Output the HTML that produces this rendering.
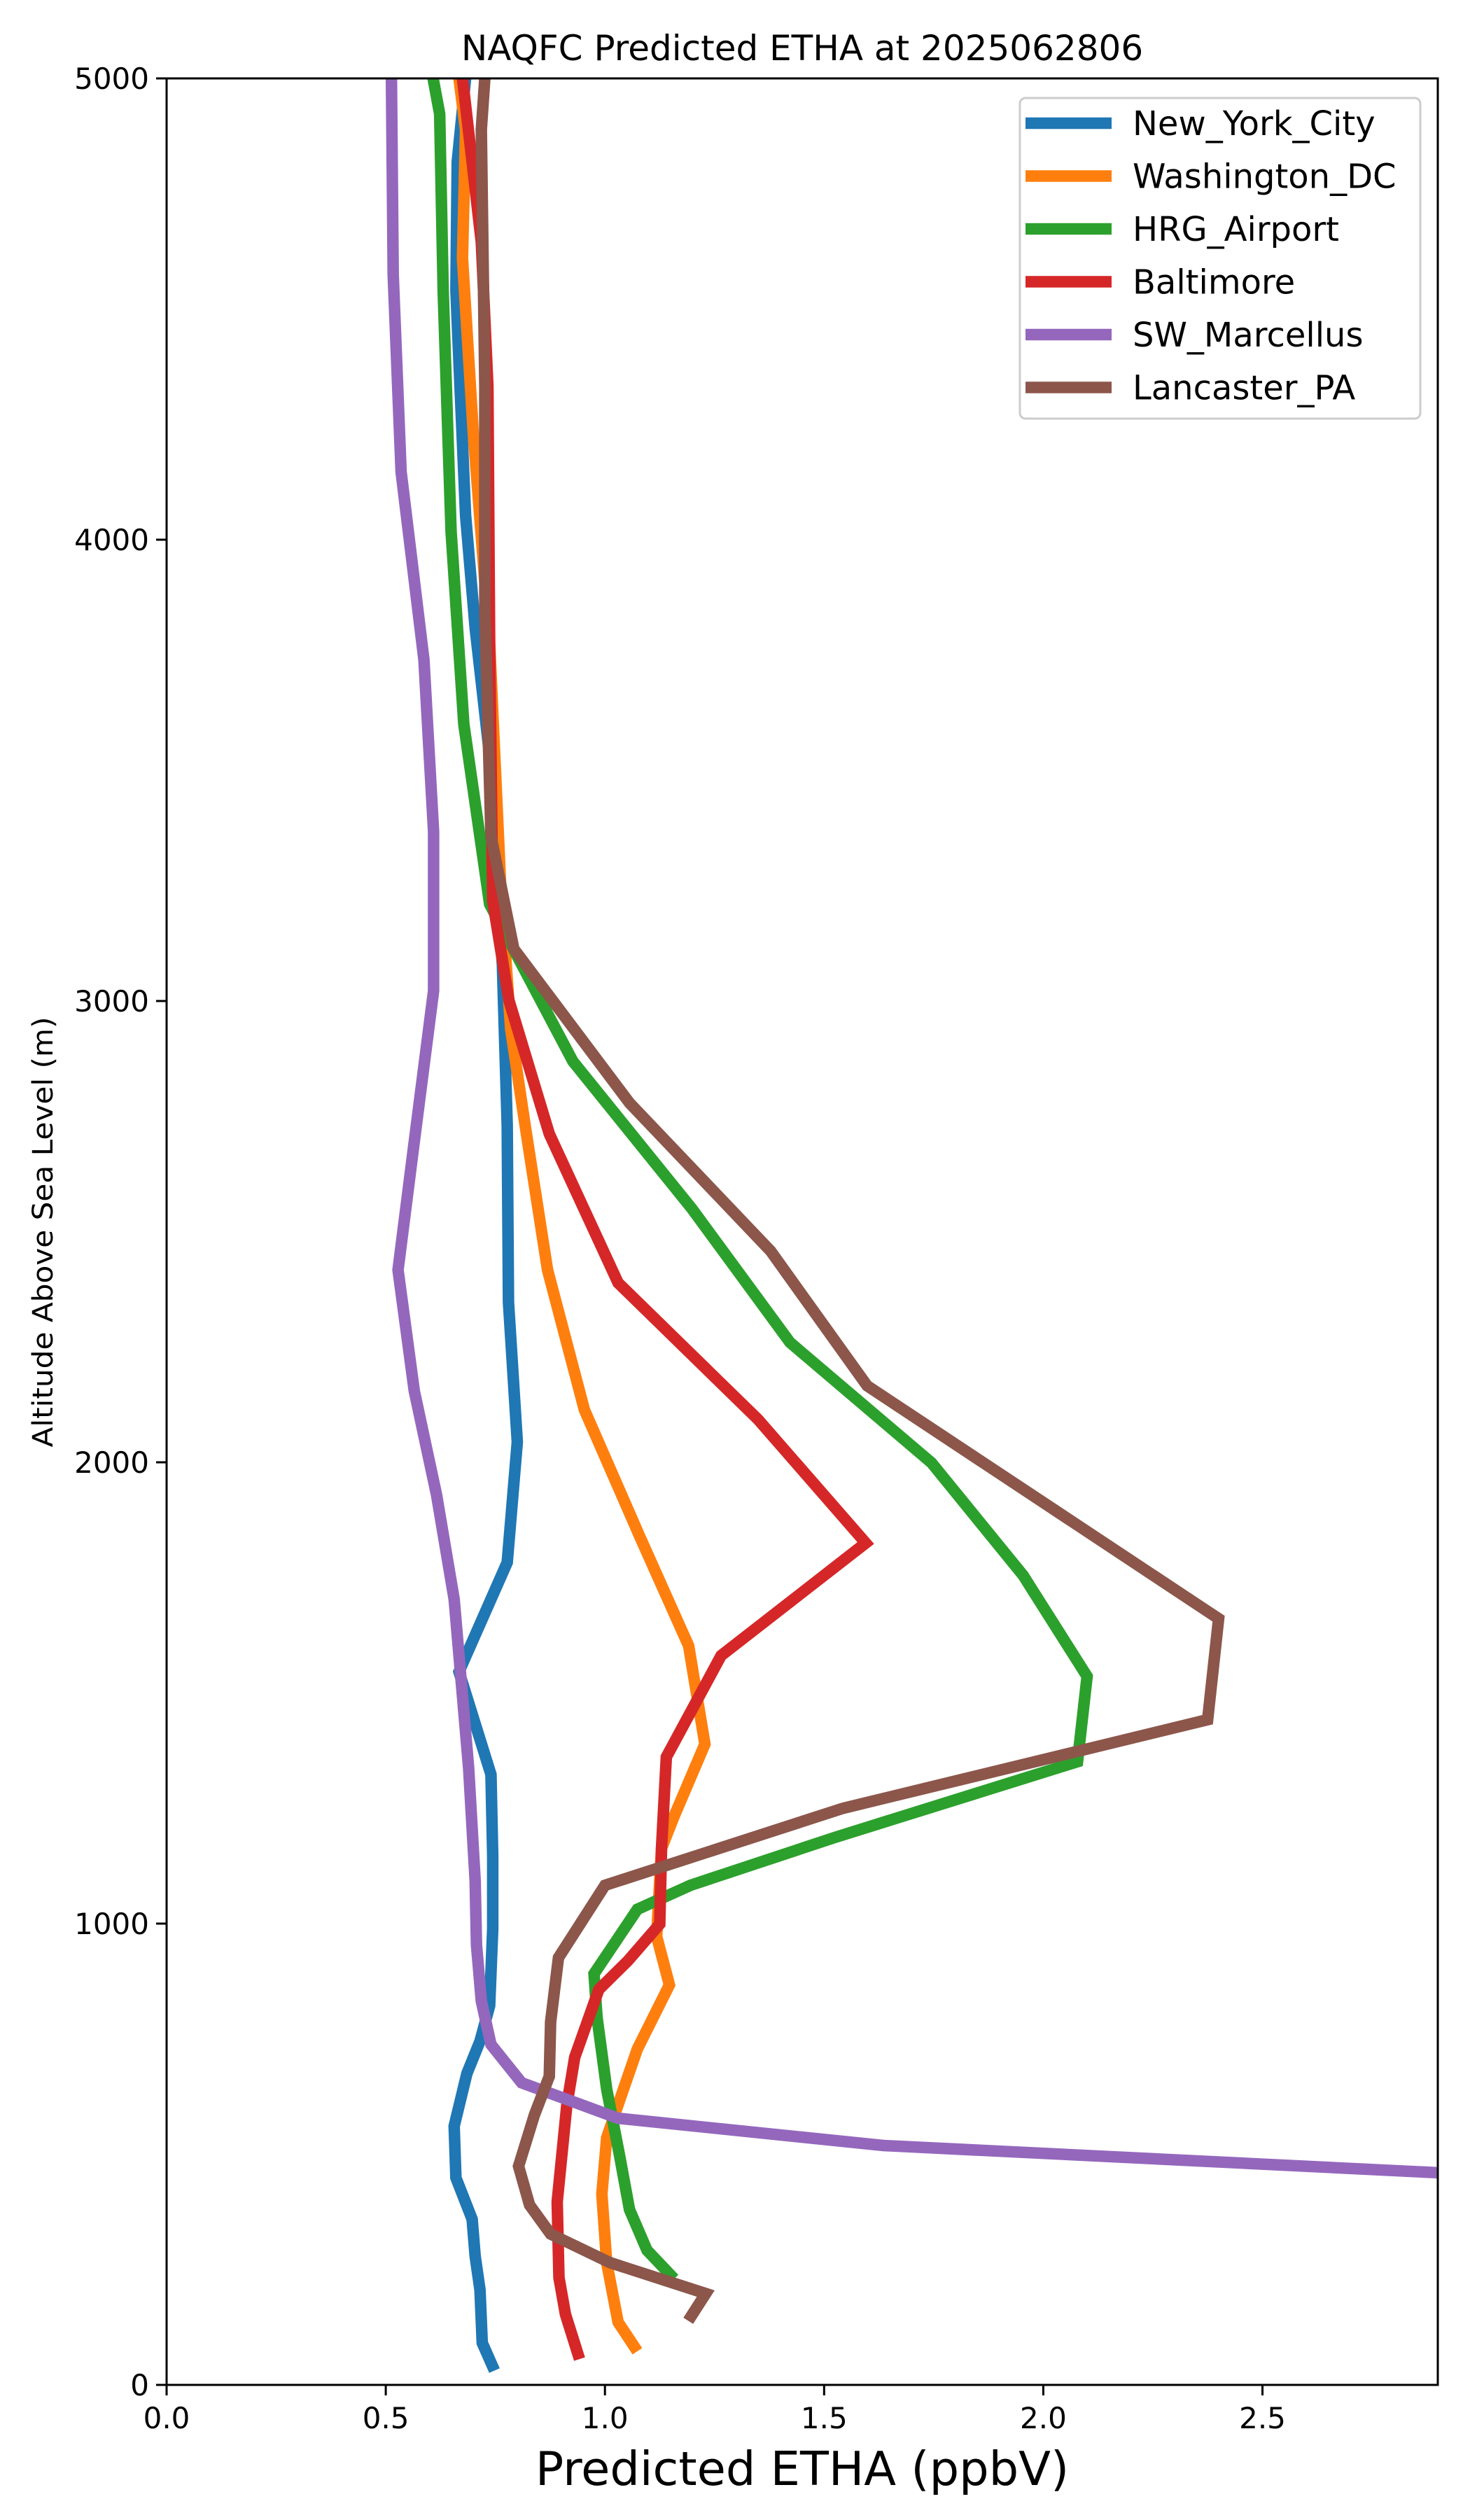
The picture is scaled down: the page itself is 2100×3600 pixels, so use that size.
<!DOCTYPE html>
<html><head><meta charset="utf-8"><style>html,body{margin:0;padding:0;background:#fff}svg{display:block}text{font-family:"DejaVu Sans","Liberation Sans",sans-serif;fill:#000}</style></head>
<body>
<svg id="chart" xmlns="http://www.w3.org/2000/svg" width="2100" height="3600" viewBox="0 0 2100 3600">
<rect width="2100" height="3600" fill="#fff"/>
<text x="1146" y="86" font-size="50" text-anchor="middle">NAQFC Predicted ETHA at 2025062806</text>
<g id="series"></g>
<rect x="238" y="112" width="1816" height="3295" fill="none" stroke="#000" stroke-width="3"/>
<g id="axes"></g>
<text x="1146" y="3550" font-size="67" text-anchor="middle">Predicted ETHA (ppbV)</text>
<text transform="translate(75,1760) rotate(-90)" font-size="40" text-anchor="middle" textLength="615" lengthAdjust="spacingAndGlyphs">Altitude Above Sea Level (m)</text>
<g id="legend"></g>
</svg>
<script>
const seriesNames = ["New_York_City","Washington_DC","HRG_Airport","Baltimore","SW_Marcellus","Lancaster_PA"];
const seriesColors = ["#1f77b4","#ff7f0e","#2ca02c","#d62728","#9467bd","#8c564b"];
const xTicks = [0,0.5,1,1.5,2,2.5];
const xTickLabels = ["0.0","0.5","1.0","1.5","2.0","2.5"];
const yTicks = [0,1000,2000,3000,4000,5000];
const yTickLabels = ["0","1000","2000","3000","4000","5000"];
const nycX = [0.748,0.72,0.715,0.704,0.697,0.66,0.656,0.685,0.715,0.737,0.744,0.744,0.74,0.667,0.777,0.8,0.78,0.777,0.766,0.737,0.704,0.682,0.66,0.663,0.682];
const nycY = [31,91,206,279,359,449,561,675,745,822,989,1146,1323,1546,1783,2044,2347,2730,3078,3531,3809,4053,4540,4819,5000];
const dcX = [1.074,1.03,1.004,0.993,1.004,1.074,1.147,1.118,1.129,1.158,1.228,1.191,1.078,0.953,0.869,0.818,0.785,0.762,0.737,0.70,0.675,0.682,0.667];
const dcY = [73,136,265,414,536,728,867,972,1163,1233,1389,1602,1842,2114,2417,2730,2939,3252,3775,4227,4610,4889,5000];
const hrgX = [1.158,1.096,1.056,1.034,1.004,0.982,0.975,1.074,1.195,1.525,2.078,2.1,1.954,1.745,1.422,1.199,0.927,0.737,0.678,0.649,0.631,0.623,0.608];
const hrgY = [230,292,380,494,641,797,891,1031,1083,1187,1351,1536,1755,1999,2260,2549,2869,3210,3600,4018,4540,4923,5000];
const balX = [0.942,0.91,0.895,0.891,0.913,0.931,0.986,1.052,1.125,1.129,1.14,1.265,1.595,1.349,1.03,0.873,0.781,0.744,0.737,0.733,0.718,0.675];
const balY = [56,153,233,397,606,710,857,919,999,1163,1361,1581,1825,2093,2389,2712,3001,3217,3775,4332,4645,5000];
const swmX = [2.9,1.635,1.03,0.81,0.74,0.718,0.707,0.704,0.689,0.656,0.616,0.565,0.528,0.565,0.609,0.609,0.587,0.535,0.517,0.513];
const swmY = [460,519,578,655,738,832,954,1093,1337,1703,1929,2155,2417,2695,3022,3367,3740,4147,4575,5000];
const lanX = [1.19,1.23,1.012,0.876,0.828,0.803,0.839,0.873,0.876,0.894,1.00,1.543,2.375,2.4,1.598,1.378,1.056,0.792,0.74,0.726,0.726,0.718,0.726];
const lanY = [139,198,265,327,390,474,585,669,787,926,1083,1250,1442,1661,2166,2458,2779,3113,3357,3844,4332,4889,5000];

const NS="http://www.w3.org/2000/svg";
const L=238,R=2054,T=112,B=3407,XMAX=2.9,YMAX=5000;
function sx(v){return L+(v/XMAX)*(R-L);}
function sy(v){return B-(v/YMAX)*(B-T);}
const allX=[nycX,dcX,hrgX,balX,swmX,lanX], allY=[nycY,dcY,hrgY,balY,swmY,lanY];
const g=document.getElementById('series');
const clip=document.createElementNS(NS,'clipPath');clip.setAttribute('id','pc');
const cr=document.createElementNS(NS,'rect');cr.setAttribute('x',L);cr.setAttribute('y',T);cr.setAttribute('width',R-L);cr.setAttribute('height',B-T);
clip.appendChild(cr);document.getElementById('chart').appendChild(clip);
g.setAttribute('clip-path','url(#pc)');
for(let i=0;i<seriesNames.length;i++){
  const p=document.createElementNS(NS,'polyline');
  p.setAttribute('points',allX[i].map((x,j)=>sx(x).toFixed(1)+','+sy(allY[i][j]).toFixed(1)).join(' '));
  p.setAttribute('fill','none');p.setAttribute('stroke',seriesColors[i]);p.setAttribute('stroke-width','16.5');
  p.setAttribute('stroke-linejoin','miter');p.setAttribute('stroke-linecap','butt');
  
  
  g.appendChild(p);
}
const ax=document.getElementById('axes');
xTicks.forEach((v,i)=>{
  const t=document.createElementNS(NS,'line');
  t.setAttribute('x1',sx(v));t.setAttribute('x2',sx(v));t.setAttribute('y1',B);t.setAttribute('y2',B+15);
  t.setAttribute('stroke','#000');t.setAttribute('stroke-width','3');
  
  
  ax.appendChild(t);
  const tx=document.createElementNS(NS,'text');
  tx.setAttribute('x',sx(v));tx.setAttribute('y',B+62);tx.setAttribute('font-size','42');tx.setAttribute('text-anchor','middle');
  tx.textContent=xTickLabels[i];
  
  
  ax.appendChild(tx);
});
yTicks.forEach((v,i)=>{
  const t=document.createElementNS(NS,'line');
  t.setAttribute('x1',L-15);t.setAttribute('x2',L);t.setAttribute('y1',sy(v));t.setAttribute('y2',sy(v));
  t.setAttribute('stroke','#000');t.setAttribute('stroke-width','3');
  
  
  ax.appendChild(t);
  const tx=document.createElementNS(NS,'text');
  tx.setAttribute('x',L-25);tx.setAttribute('y',sy(v)+15);tx.setAttribute('font-size','42');tx.setAttribute('text-anchor','end');
  tx.textContent=yTickLabels[i];
  
  
  ax.appendChild(tx);
});
const lg=document.getElementById('legend');
const box=document.createElementNS(NS,'rect');
box.setAttribute('x',1457);box.setAttribute('y',140);box.setAttribute('width',572);box.setAttribute('height',458);
box.setAttribute('rx',8);box.setAttribute('fill','#fff');box.setAttribute('fill-opacity','0.8');box.setAttribute('stroke','#ccc');box.setAttribute('stroke-width','3');


lg.appendChild(box);
seriesNames.forEach((n,i)=>{
  const y=176+i*75.5;
  const ln=document.createElementNS(NS,'line');
  ln.setAttribute('x1',1465);ln.setAttribute('x2',1588);ln.setAttribute('y1',y);ln.setAttribute('y2',y);
  ln.setAttribute('stroke',seriesColors[i]);ln.setAttribute('stroke-width','16.5');
  
  
  lg.appendChild(ln);
  const tx=document.createElementNS(NS,'text');
  tx.setAttribute('x',1618);tx.setAttribute('y',y+17);tx.setAttribute('font-size','48');
  tx.textContent=n;
  
  
  lg.appendChild(tx);
});
</script>
</body></html>
